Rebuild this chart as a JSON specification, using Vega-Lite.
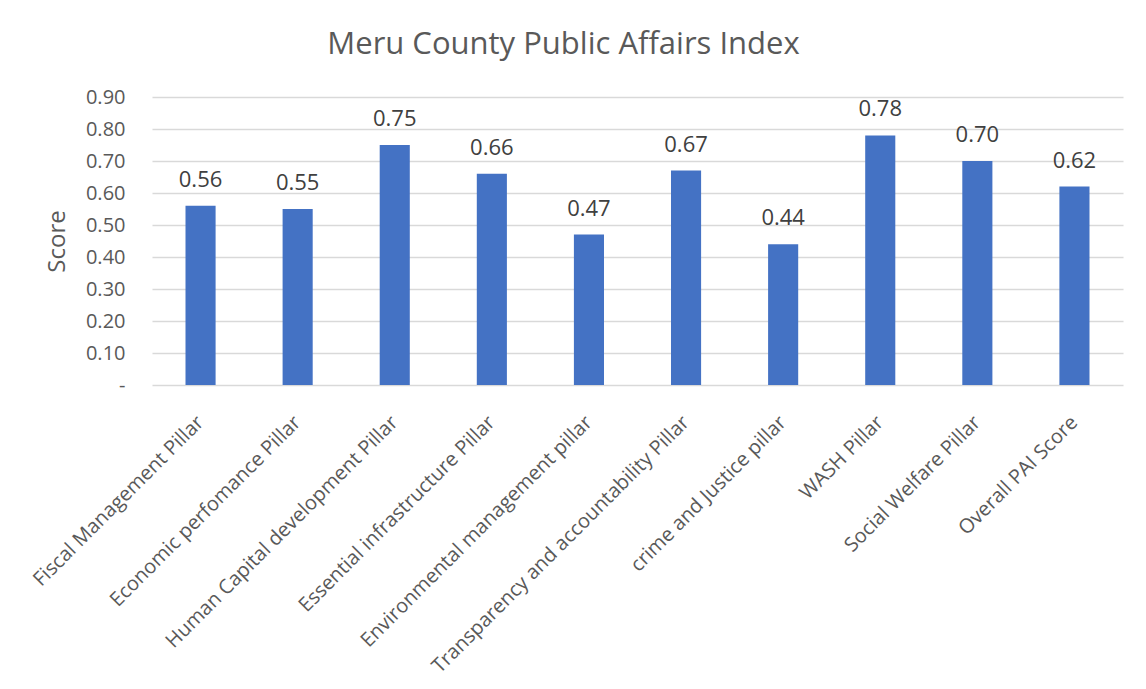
{
  "$schema": "https://vega.github.io/schema/vega-lite/v6.json",
  "width": 971,
  "height": 288,
  "autosize": {"type": "none"},
  "padding": {"left": 152, "top": 97, "right": 23, "bottom": 304},
  "background": "white",
  "title": {
    "text": "Meru County Public Affairs Index",
    "font": "Open Sans",
    "fontSize": 31,
    "fontWeight": "normal",
    "color": "#595959",
    "anchor": "middle",
    "dx": -74,
    "offset": 26
  },
  "data": {
    "values": [
      {"pillar": "Fiscal Management Pillar", "score": 0.56},
      {"pillar": "Economic perfomance Pillar", "score": 0.55},
      {"pillar": "Human Capital development Pillar", "score": 0.75},
      {"pillar": "Essential infrastructure Pillar", "score": 0.66},
      {"pillar": "Environmental management pillar", "score": 0.47},
      {"pillar": "Transparency and accountability Pillar", "score": 0.67},
      {"pillar": "crime and Justice pillar", "score": 0.44},
      {"pillar": "WASH Pillar", "score": 0.78},
      {"pillar": "Social Welfare Pillar", "score": 0.70},
      {"pillar": "Overall PAI Score", "score": 0.62}
    ]
  },
  "encoding": {
    "x": {
      "field": "pillar",
      "type": "nominal",
      "sort": null,
      "scale": {"paddingInner": 0.69, "paddingOuter": 0.345},
      "axis": {
        "title": null,
        "labelAngle": -45,
        "labelAlign": "right",
        "labelBaseline": "middle",
        "labelFont": "Open Sans",
        "labelFontSize": 20,
        "labelColor": "#595959",
        "labelPadding": 34,
        "ticks": false,
        "domain": false,
        "labelLimit": 500
      }
    },
    "y": {
      "field": "score",
      "type": "quantitative",
      "scale": {"domain": [0, 0.9]},
      "axis": {
        "title": "Score",
        "titleFont": "Open Sans",
        "titleFontSize": 24,
        "titleFontWeight": "normal",
        "titleColor": "#595959",
        "titlePadding": 16,
        "values": [0, 0.1, 0.2, 0.3, 0.4, 0.5, 0.6, 0.7, 0.8, 0.9],
        "labelExpr": "datum.value == 0 ? '-' : format(datum.value, '.2f')",
        "labelFont": "Open Sans",
        "labelFontSize": 20,
        "labelColor": "#595959",
        "labelPadding": 27,
        "ticks": false,
        "domain": false,
        "grid": true,
        "gridColor": "#d9d9d9",
        "gridWidth": 1.5
      }
    }
  },
  "layer": [
    {"mark": {"type": "bar", "color": "#4472C4"}},
    {
      "mark": {"type": "text", "dy": -19, "baseline": "alphabetic", "font": "Open Sans", "fontSize": 22, "color": "#404040"},
      "encoding": {"text": {"field": "score", "type": "quantitative", "format": ".2f"}}
    }
  ],
  "config": {"view": {"stroke": null}}
}
